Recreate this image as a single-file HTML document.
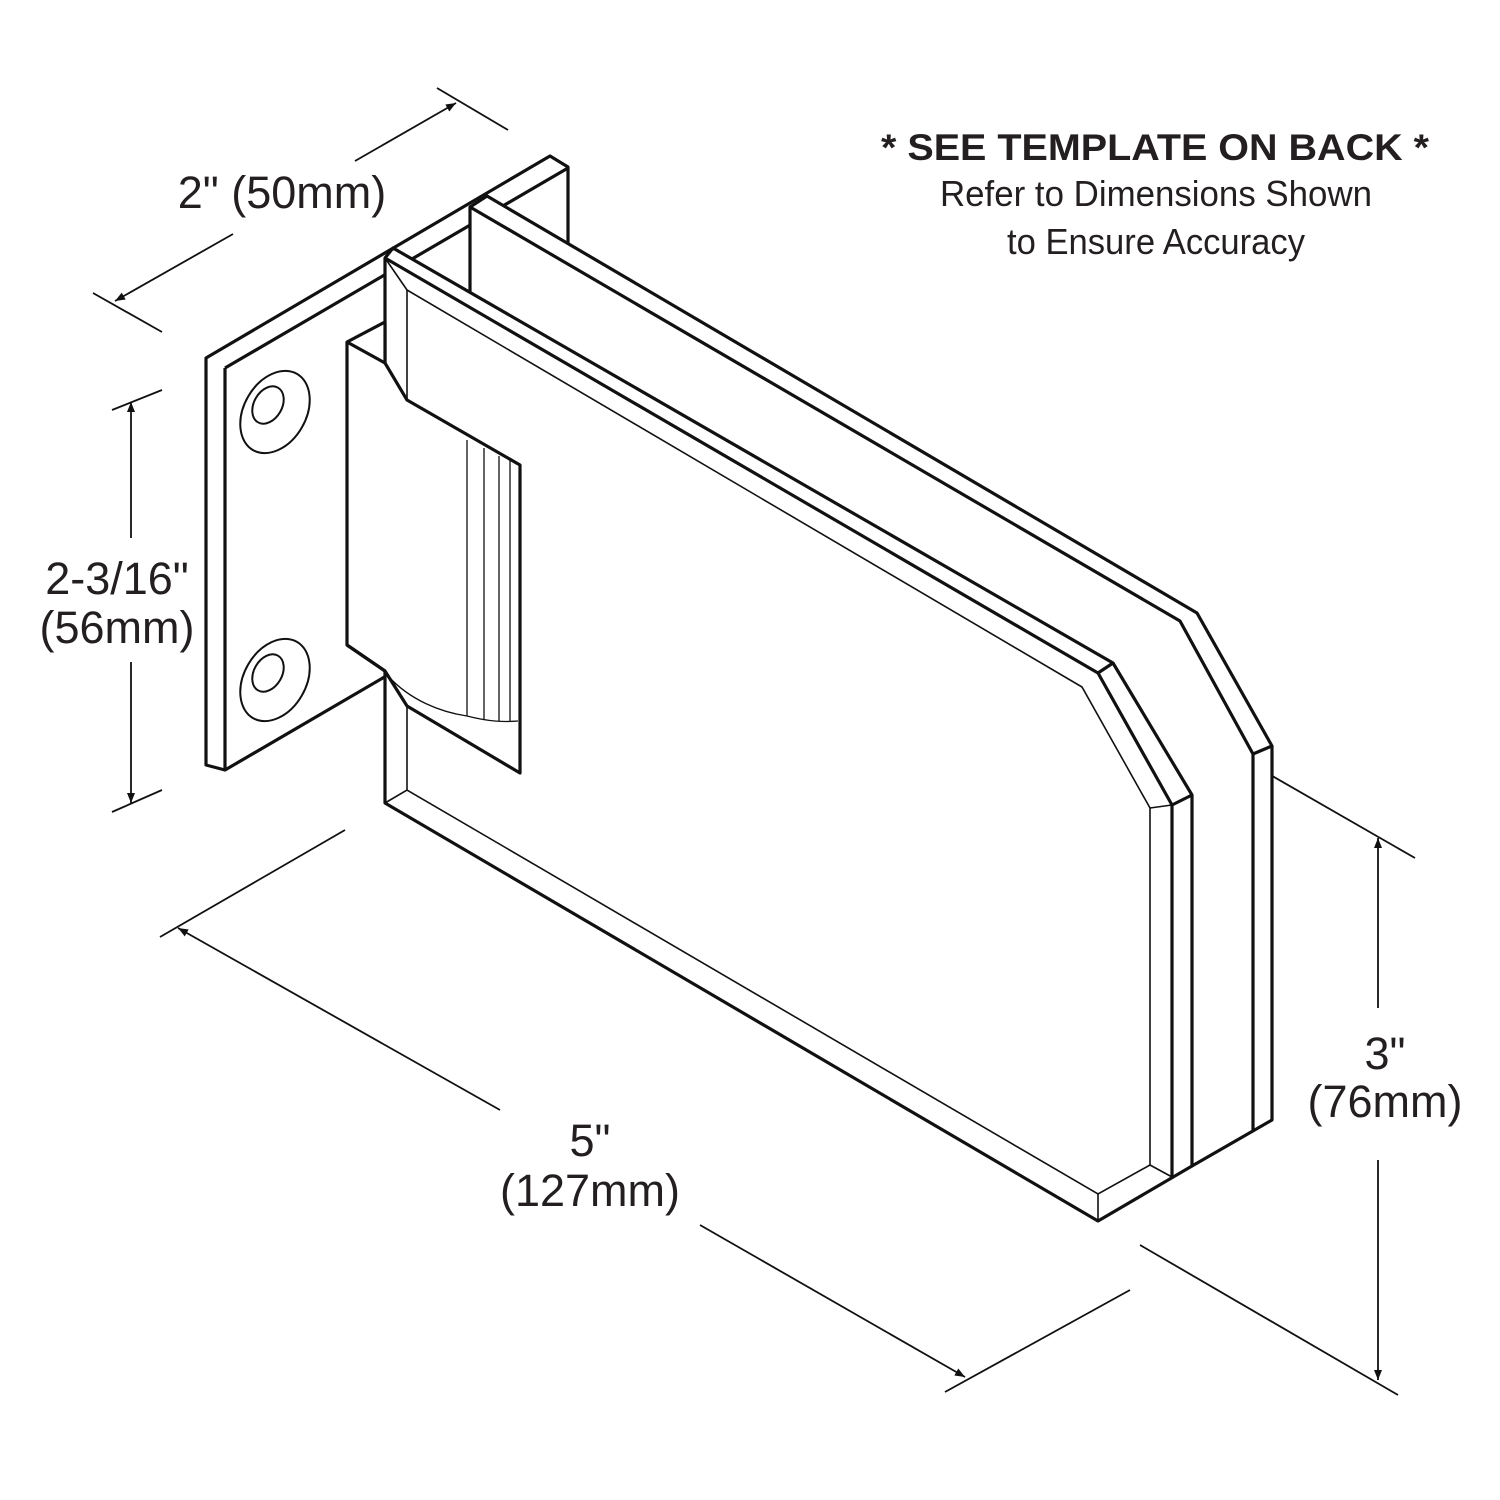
<!DOCTYPE html>
<html><head><style>
html,body{margin:0;padding:0;background:#fff;}
svg{display:block;}
text{font-family:"Liberation Sans",sans-serif;fill:#231f20;}
</style></head><body>
<svg width="1500" height="1500" viewBox="0 0 1500 1500" xmlns="http://www.w3.org/2000/svg">
<defs>
<marker id="ar" viewBox="0 0 10 10" refX="10" refY="5" markerWidth="14" markerHeight="10" markerUnits="userSpaceOnUse" orient="auto">
<path d="M0,1 L10,5 L0,9 z" fill="#111"/>
</marker>
</defs>
<g fill="none" stroke="#111" stroke-width="1.8">
<line x1="93" y1="293" x2="162" y2="332"/>
<line x1="437" y1="88" x2="508" y2="130"/>
<line x1="233" y1="234" x2="115" y2="301" marker-end="url(#ar)"/>
<line x1="355" y1="161" x2="456" y2="103" marker-end="url(#ar)"/>
<line x1="112" y1="410" x2="162" y2="390"/>
<line x1="112" y1="812" x2="162" y2="790"/>
<line x1="131" y1="538" x2="131" y2="402" marker-end="url(#ar)"/>
<line x1="131" y1="662" x2="131" y2="803" marker-end="url(#ar)"/>
<line x1="160" y1="937" x2="345" y2="830"/>
<line x1="945" y1="1392" x2="1130" y2="1290"/>
<line x1="500" y1="1110" x2="178" y2="928" marker-end="url(#ar)"/>
<line x1="700" y1="1225" x2="965" y2="1377" marker-end="url(#ar)"/>
<line x1="1140" y1="700" x2="1415" y2="858"/>
<line x1="1140" y1="1245" x2="1398" y2="1395"/>
<line x1="1378" y1="1008" x2="1378" y2="838" marker-end="url(#ar)"/>
<line x1="1378" y1="1160" x2="1378" y2="1380" marker-end="url(#ar)"/>
</g>

<g fill="#fff" stroke="#111" stroke-width="3.2" stroke-linejoin="round">
<!-- wall plate -->
<polygon points="206,358 550,156 568,167 568,570 225,770 206,765"/>
<polyline points="225,368 568,168"/>
<line x1="225" y1="368" x2="225" y2="770"/>
<!-- back glass plate -->
<polygon points="470,207 487,196 1197,613 1272,746 1272,1120 1192,1166 470,760"/>
<polyline points="470,207 1180,621 1253,754 1253,1130"/>
<line x1="1272" y1="746" x2="1253" y2="754"/>
<!-- front clamp plate -->
<polygon points="385,258 393,248 1113,663 1192,795 1192,1166 1098,1221 385,803"/>
<polyline points="385,258 1098,673 1172,805 1172,1177"/>
<line x1="1113" y1="663" x2="1098" y2="673"/>
<line x1="1192" y1="795" x2="1172" y2="805"/>
</g>
<g fill="none" stroke="#111" stroke-width="1.6">
<polyline points="385,258 407,290 1082,687 1150,808 1150,1165 1098,1194 407,790 385,803"/>
<line x1="1172" y1="805" x2="1150" y2="808"/>
<line x1="1098" y1="1194" x2="1098" y2="1221"/>
<line x1="1150" y1="1165" x2="1172" y2="1177"/>
<line x1="407" y1="290" x2="407" y2="400"/>
<line x1="407" y1="706" x2="407" y2="790"/>
</g>
<g fill="#fff" stroke="#111" stroke-width="3.2" stroke-linejoin="round">
<polygon points="347,342 385,322 385,363 407,400 520,465 520,773 407,706 385,671 347,645"/>
<polyline points="347,342 385,363"/>
<polyline points="347,645 385,671"/>
</g>
<g fill="none" stroke="#111" stroke-width="1.3">
<path d="M388,676 C410,700 440,712 467,716 C490,722 505,722 518,721"/>
<line x1="467" y1="440" x2="467" y2="716"/>
<line x1="484" y1="448" x2="484" y2="720"/>
<line x1="499" y1="456" x2="499" y2="721"/>
<line x1="510" y1="460" x2="510" y2="721"/>
</g>
<g fill="none" stroke="#111" stroke-width="2">
<ellipse cx="275" cy="412" rx="31" ry="44" transform="rotate(30 275 412)"/>
<ellipse cx="268" cy="405" rx="14" ry="20" transform="rotate(30 268 405)"/>
<ellipse cx="275" cy="680" rx="31" ry="44" transform="rotate(30 275 680)"/>
<ellipse cx="268" cy="673" rx="14" ry="20" transform="rotate(30 268 673)"/>
</g>

<g font-size="45">
<text x="282" y="208" text-anchor="middle">2" (50mm)</text>
<text x="117" y="594" text-anchor="middle">2-3/16"</text>
<text x="117" y="643" text-anchor="middle">(56mm)</text>
<text x="590" y="1156" text-anchor="middle">5"</text>
<text x="590" y="1206" text-anchor="middle">(127mm)</text>
<text x="1385" y="1069" text-anchor="middle">3"</text>
<text x="1385" y="1117" text-anchor="middle">(76mm)</text>
</g>
<text x="1155" y="160" text-anchor="middle" font-size="37" font-weight="bold" textLength="548" lengthAdjust="spacingAndGlyphs">* SEE TEMPLATE ON BACK *</text>
<text x="1156" y="206" text-anchor="middle" font-size="36" textLength="432" lengthAdjust="spacingAndGlyphs">Refer to Dimensions Shown</text>
<text x="1156" y="254" text-anchor="middle" font-size="36" textLength="298" lengthAdjust="spacingAndGlyphs">to Ensure Accuracy</text>
</svg>
</body></html>
